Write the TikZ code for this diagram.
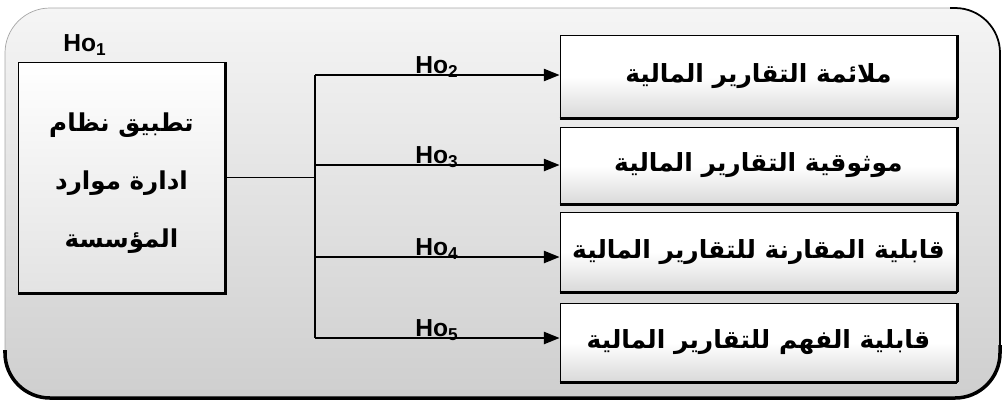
\documentclass[tikz,border=0pt]{standalone}
\usepackage{fontspec}
\setmainfont{Liberation Sans}
\newfontfamily\arabicfont[Script=Arabic]{DejaVu Sans}
\TeXXeTstate=1
\usetikzlibrary{arrows.meta,calc}
\tikzset{
  arlabel/.style={font=\arabicfont\bfseries\fontsize{14.2}{17}\selectfont},
  hobox/.style={draw=black, line width=0.5pt, rectangle, inner sep=0pt,
     top color=white, bottom color=gray!30, middle color=white},
  holbl/.style={font=\bfseries\fontsize{14}{16}\selectfont, inner sep=0pt, above},
  conn/.style={line width=1pt},
  arr/.style={line width=1pt, -{Triangle[length=9pt,width=7pt]}},
  heavy/.style={line width=2.2pt},
}
\begin{document}
\begin{tikzpicture}
\useasboundingbox (0,0) rectangle (20.1,-8.16);
% outer frame
\shade[top color=gray!8, bottom color=gray!38, rounded corners=0.9cm] (0.1,-0.16) rectangle (20.0,-7.96);
\draw[line width=0.4pt, gray!70, rounded corners=0.9cm] (0.1,-0.16) rectangle (20.0,-7.96);
\draw[line width=2pt, rounded corners=0.9cm] (0.1,-7.0) -- (0.1,-7.96) -- (20.0,-7.96) -- (20.0,-6.9);
\draw[line width=1pt, rounded corners=0.9cm] (20.0,-7.0) -- (20.0,-0.16) -- (19.0,-0.16);

% left box
\node[hobox, minimum width=4.14cm, minimum height=4.62cm, bottom color=gray!22] (src) at (2.43,-3.55) {};
\draw[heavy] (src.south west) -- (src.south east) -- (src.north east);
\node[align=center, font=\arabicfont\bfseries\fontsize{14}{33}\selectfont] (srct) at ($(src.center)+(0,-0.12)$)
  {\beginR تطبيق نظام\endR\\ \beginR ادارة موارد\endR\\ \beginR المؤسسة\endR};
\node[holbl, anchor=south] (h1) at (1.7,-1.12) {Ho\textsubscript{1}};

% right boxes
\node[hobox, minimum width=7.94cm, minimum height=1.66cm] (b1) at (15.17,-1.53) {};
\node[hobox, minimum width=7.94cm, minimum height=1.54cm] (b2) at (15.17,-3.31) {};
\node[hobox, minimum width=7.94cm, minimum height=1.60cm] (b3) at (15.17,-5.04) {};
\node[hobox, minimum width=7.94cm, minimum height=1.58cm] (b4) at (15.17,-6.85) {};
\foreach \b in {b1,b2,b3,b4}{
  \draw[heavy] (\b.south west) -- (\b.south east);
  \draw[line width=1.2pt] (\b.south east) -- (\b.north east);
}
\node[arlabel] (t1) at (b1.center) {\beginR ملائمة التقارير المالية\endR};
\node[arlabel] (t2) at (b2.center) {\beginR موثوقية التقارير المالية\endR};
\node[arlabel] (t3) at (b3.center) {\beginR قابلية المقارنة للتقارير المالية\endR};
\node[arlabel] (t4) at (b4.center) {\beginR قابلية الفهم للتقارير المالية\endR};

% connectors
\coordinate (vtop) at (6.3,-1.5);
\coordinate (vbot) at (6.3,-6.76);
\coordinate (vmid) at (6.3,-3.55);
\draw[conn] (src.east) -- (vmid);
\draw[conn] (vtop) -- (vbot);
\coordinate (a1) at (6.3,-1.5);
\coordinate (a2) at (6.3,-3.3);
\coordinate (a3) at (6.3,-5.14);
\coordinate (a4) at (6.3,-6.76);
\draw[arr] (a1) -- (a1 -| b1.west);
\draw[arr] (a2) -- (a2 -| b2.west);
\draw[arr] (a3) -- (a3 -| b3.west);
\draw[arr] (a4) -- (a4 -| b4.west);
\node[holbl, anchor=south] (h2) at (8.74,-1.56) {Ho\textsubscript{2}};
\node[holbl, anchor=south] (h3) at (8.74,-3.36) {Ho\textsubscript{3}};
\node[holbl, anchor=south] (h4) at (8.74,-5.2) {Ho\textsubscript{4}};
\node[holbl, anchor=south] (h5) at (8.74,-6.82) {Ho\textsubscript{5}};
\end{tikzpicture}
\end{document}
